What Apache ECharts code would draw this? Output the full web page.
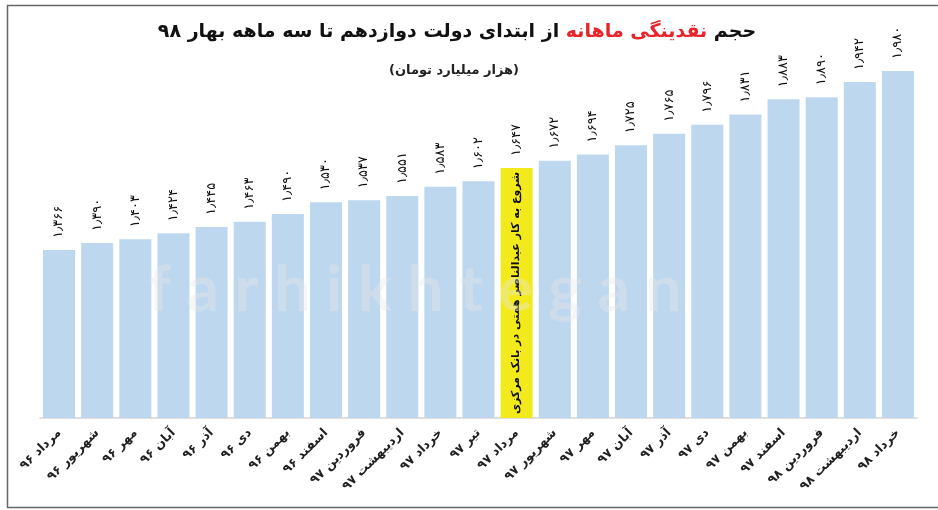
<!DOCTYPE html>
<html>
<head>
<meta charset="utf-8">
<script src="https://cdn.jsdelivr.net/npm/echarts@6/dist/echarts.min.js"></script>
<style>
  html, body { margin: 0; padding: 0; background: #fff; }
  #main { width: 938px; height: 510px; }
</style>
</head>
<body>
<div id="main"></div>
<script>
// ماه‌ها (از چپ به راست)
var months = ['مرداد ۹۶', 'شهریور ۹۶', 'مهر ۹۶', 'آبان ۹۶', 'آذر ۹۶', 'دی ۹۶', 'بهمن ۹۶', 'اسفند ۹۶',
  'فروردین ۹۷', 'اردیبهشت ۹۷', 'خرداد ۹۷', 'تیر ۹۷', 'مرداد ۹۷', 'شهریور ۹۷', 'مهر ۹۷', 'آبان ۹۷',
  'آذر ۹۷', 'دی ۹۷', 'بهمن ۹۷', 'اسفند ۹۷', 'فروردین ۹۸', 'اردیبهشت ۹۸', 'خرداد ۹۸'];
// نقدینگی - هزار میلیارد تومان
var values = [1366, 1390, 1403, 1424, 1445, 1463, 1490, 1530, 1537, 1551, 1583, 1602, 1647,
  1672, 1694, 1725, 1765, 1796, 1831, 1883, 1890, 1942, 1980];
// ماه شروع به کار همتی
var markMonth = 'مرداد ۹۷';
var markText = 'شروع به کار عبدالناصر همتی در بانک مرکزی';

var faFont = '"DejaVu Sans", "Noto Sans", sans-serif';
var blue = '#bdd7ee';
var yellow = '#f3ea1c';

function toFa(v) {
  var s = String(v);
  s = s.slice(0, 1) + '٫' + s.slice(1);
  return s.replace(/\d/g, function (d) { return '۰۱۲۳۴۵۶۷۸۹'[d]; });
}

var markIdx = months.indexOf(markMonth);

var barData = values.map(function (v, i) {
  if (i === markIdx) return {value: v, itemStyle: {color: yellow}};
  return v;
});
var noteData = values.map(function (v, i) {
  return i === markIdx ? v : '-';
});

var chart = echarts.init(document.getElementById('main'));

var option = {
  animation: false,
  backgroundColor: '#fff',
  grid: {left: 40, right: 21, top: 71, bottom: 92},
  xAxis: {
    type: 'category',
    data: months,
    axisLine: {lineStyle: {color: '#d3d3d3', width: 1.5}},
    axisTick: {show: false},
    axisLabel: {
      rotate: 45,
      interval: 0,
      margin: 13,
      fontFamily: faFont,
      fontSize: 12.5,
      fontWeight: 'bold',
      color: '#222'
    }
  },
  yAxis: {
    type: 'value',
    min: 790,
    max: 1980,
    show: false,
    splitLine: {show: false}
  },
  series: [
    {
      type: 'bar',
      data: barData,
      barCategoryGap: '16%',
      itemStyle: {color: blue},
      label: {
        show: true,
        position: 'top',
        rotate: 90,
        align: 'left',
        verticalAlign: 'middle',
        distance: 12,
        fontFamily: faFont,
        fontSize: 13,
        color: '#111',
        formatter: function (p) { return toFa(p.value); }
      }
    },
    {
      type: 'bar',
      data: noteData,
      barGap: '-100%',
      barCategoryGap: '16%',
      itemStyle: {color: 'rgba(0,0,0,0)'},
      silent: true,
      label: {
        show: true,
        position: 'inside',
        rotate: 90,
        fontFamily: faFont,
        fontSize: 11,
        fontWeight: 'bold',
        color: '#111',
        formatter: function () { return markText; }
      }
    }
  ],
  graphic: [
    {
      type: 'rect',
      left: 5, top: 3,
      shape: {width: 960, height: 502},
      style: {fill: 'none', stroke: '#666', lineWidth: 1.5},
      silent: true
    },
    {
      type: 'text',
      x: 457, y: 32,
      style: {
        text: '{a|از ابتدای دولت دوازدهم تا سه ماهه بهار ۹۸ }{r|نقدینگی ماهانه}{a| حجم}',
        align: 'center',
        verticalAlign: 'middle',
        rich: {
          a: {fontFamily: faFont, fontSize: 19, fontWeight: 'bold', fill: '#111'},
          r: {fontFamily: faFont, fontSize: 19, fontWeight: 'bold', fill: '#e8242a'}
        }
      }
    },
    {
      type: 'text',
      x: 454, y: 71,
      style: {
        text: '(هزار میلیارد تومان)',
        align: 'center',
        verticalAlign: 'middle',
        fontFamily: faFont,
        fontSize: 13,
        fontWeight: 'bold',
        fill: '#222'
      }
    },
    {
      type: 'text',
      x: 415, y: 290,
      z: 100,
      style: {
        text: 'f a r h i k h t e g a n',
        align: 'center',
        verticalAlign: 'middle',
        fontFamily: 'Lato, sans-serif',
        fontSize: 64,
        fontWeight: 'bold',
        fill: 'rgba(232,232,232,0.38)'
      },
      silent: true
    }
  ]
};

chart.setOption(option);
</script>
</body>
</html>
